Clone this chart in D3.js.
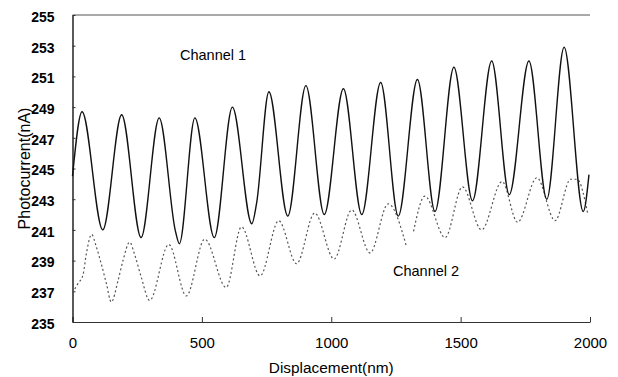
<!DOCTYPE html>
<html>
<head>
<meta charset="utf-8">
<script src="https://cdn.jsdelivr.net/npm/d3@7"></script>
<style>
  body { margin: 0; background: #fff; }
  svg { display: block; }
</style>
</head>
<body>
<svg id="chart" width="618" height="377"></svg>
<script>
// values (nm, nA)
const ch1X = [0, 37, 117, 190, 265, 335, 398, 413, 473, 548, 618, 693, 712, 759, 832, 902, 973, 1047, 1118, 1191, 1259, 1333, 1401, 1474, 1546, 1620, 1688, 1764, 1833, 1900, 1974, 1996];
const ch1Y = [244.5, 248.7, 241.0, 248.5, 240.5, 248.3, 240.9, 240.1, 248.3, 240.5, 249.0, 241.4, 242.8, 250.0, 241.9, 250.4, 242.0, 250.2, 242.0, 250.6, 241.9, 250.8, 242.2, 251.6, 242.9, 252.0, 243.3, 252.0, 243.0, 252.9, 242.2, 244.6];

const ch2X = [0, 21, 41, 53, 74, 92, 111, 131, 150, 176, 195, 221, 240, 266, 298, 372, 440, 511, 594, 653, 725, 797, 866, 936, 1011, 1079, 1150, 1220, 1291, 1305, 1318, 1362, 1440, 1507, 1581, 1660, 1720, 1795, 1865, 1925, 1950, 1992];
const ch2Y = [236.9, 237.5, 238.1, 239.4, 240.7, 239.9, 238.8, 237.5, 236.3, 237.7, 239.0, 240.2, 239.4, 237.9, 236.4, 240.05, 236.7, 240.4, 237.25, 241.2, 238.0, 241.6, 238.8, 242.1, 239.1, 242.3, 239.5, 242.7, 239.9, null, 240.9, 243.2, 240.5, 243.8, 241.0, 244.15, 241.5, 244.4, 241.6, 244.3, 244.3, 242.0];

const xTicks = [0, 500, 1000, 1500, 2000];
const yTicks = [235, 237, 239, 241, 243, 245, 247, 249, 251, 253, 255];

const svg = d3.select('#chart');
const margin = { top: 15, right: 28, bottom: 55, left: 72.5 };
const width = +svg.attr('width');
const height = +svg.attr('height');

const x = d3.scaleLinear().domain([0, 2000]).range([margin.left, width - margin.right]);
const y = d3.scaleLinear().domain([235, 255]).range([height - margin.bottom, margin.top]);

// frame: top line, left + bottom axes, ticks pointing inward
svg.append('line')
  .attr('x1', x(0)).attr('x2', x(2000))
  .attr('y1', y(255)).attr('y2', y(255))
  .attr('stroke', '#555').attr('stroke-width', 1);

const xAxis = svg.append('g')
  .attr('transform', `translate(0,${y(235)})`)
  .call(d3.axisBottom(x).tickValues(xTicks).tickSizeInner(-5).tickSizeOuter(0).tickFormat(d3.format('d')));
xAxis.select('.domain').attr('stroke', '#333');
xAxis.selectAll('.tick line').attr('stroke', '#333');
xAxis.selectAll('.tick text')
  .attr('y', 15)
  .attr('font-family', '"Liberation Sans", Arial, sans-serif')
  .attr('font-size', 15)
  .attr('fill', '#000');

const yAxis = svg.append('g')
  .attr('transform', `translate(${x(0)},0)`)
  .call(d3.axisLeft(y).tickValues(yTicks).tickSizeInner(-3).tickSizeOuter(0).tickFormat(d3.format('d')));
yAxis.select('.domain').attr('stroke', '#000').attr('stroke-width', 1.3);
yAxis.selectAll('.tick line').attr('stroke', '#333');
yAxis.selectAll('.tick text')
  .attr('x', -18)
  .attr('dy', '0.45em')
  .attr('font-family', '"Liberation Sans Narrow", "Arial Narrow", sans-serif')
  .attr('font-weight', 'bold')
  .attr('font-size', 14)
  .attr('fill', '#000');

// channel 2 (dotted, grey)
const ch2 = ch2X.map((d, i) => ({ x: d, v: ch2Y[i] }));
svg.append('path')
  .datum(ch2)
  .attr('fill', 'none')
  .attr('stroke', '#555')
  .attr('stroke-width', 1.2)
  .attr('stroke-dasharray', '2,2.5')
  .attr('d', d3.line()
    .defined(d => d.v !== null)
    .x(d => x(d.x))
    .y(d => y(d.v))
    .curve(d3.curveMonotoneX));

// channel 1 (solid)
const ch1 = ch1X.map((d, i) => ({ x: d, v: ch1Y[i] }));
svg.append('path')
  .datum(ch1)
  .attr('fill', 'none')
  .attr('stroke', '#111')
  .attr('stroke-width', 1.4)
  .attr('d', d3.line()
    .x(d => x(d.x))
    .y(d => y(d.v))
    .curve(d3.curveMonotoneX));

// labels
const font = '"Liberation Sans", Arial, sans-serif';
svg.append('text')
  .attr('x', 180).attr('y', 60)
  .attr('font-family', font).attr('font-size', 14.5)
  .text('Channel 1');
svg.append('text')
  .attr('x', 393).attr('y', 276)
  .attr('font-family', font).attr('font-size', 14.5)
  .text('Channel 2');

svg.append('text')
  .attr('x', (x(0) + x(2000)) / 2).attr('y', 373)
  .attr('text-anchor', 'middle')
  .attr('font-family', font).attr('font-size', 15.4)
  .text('Displacement(nm)');
svg.append('text')
  .attr('transform', `translate(30,${(y(235) + y(255)) / 2}) rotate(-90)`)
  .attr('text-anchor', 'middle')
  .attr('font-family', font).attr('font-size', 16)
  .text('Photocurrent(nA)');
</script>
</body>
</html>
